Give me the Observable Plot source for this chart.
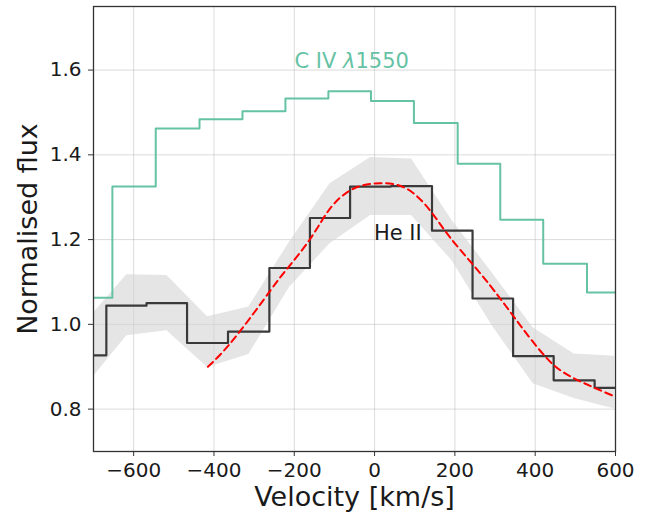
<!DOCTYPE html>
<html>
<head>
<meta charset="utf-8">
<script src="https://cdn.jsdelivr.net/npm/d3@7"></script>
<script src="https://cdn.jsdelivr.net/npm/@observablehq/plot@0.6"></script>
<style>
  html, body { margin: 0; padding: 0; background: white; }
</style>
</head>
<body>
<div id="chart"></div>
<script>
// C IV λ1550 binned profile (bin edges, flux held until next edge)
const civEdges = [-700, -653, -545, -436, -329, -222, -115, -9, 98, 207, 313, 420, 529, 600];
const civFlux  = [1.063, 1.325, 1.462, 1.484, 1.503, 1.533, 1.550, 1.527, 1.475, 1.379, 1.247, 1.143, 1.075, 1.075];

// He II binned profile
const heEdges = [-700, -668, -568, -467, -365, -262, -161, -61, 41, 143, 244, 345, 446, 548, 600];
const heFlux  = [0.927, 1.044, 1.050, 0.956, 0.983, 1.133, 1.251, 1.325, 1.326, 1.221, 1.061, 0.925, 0.868, 0.850, 0.850];

// He II uncertainty band (bin centres)
const bandV     = [-718, -617, -517, -416, -313, -212, -111, -10, 92, 193, 294, 395, 497, 598];
const bandUpper = [1.007, 1.117, 1.115, 1.018, 1.041, 1.194, 1.332, 1.394, 1.390, 1.245, 1.120, 0.992, 0.930, 0.925];
const bandLower = [0.856, 0.973, 0.985, 0.898, 0.929, 1.087, 1.190, 1.257, 1.257, 1.150, 0.995, 0.860, 0.825, 0.800];

// Fitted profile
const fitV    = [-415, -384, -334, -260, -218, -160, -111, -53, 14, 80, 138, 188, 254, 312, 361, 428, 494, 600];
const fitFlux = [0.900, 0.929, 0.985, 1.079, 1.131, 1.202, 1.273, 1.320, 1.333, 1.320, 1.269, 1.205, 1.131, 1.062, 1.000, 0.921, 0.874, 0.829];

const xTicks = [-600, -400, -200, 0, 200, 400, 600];
const yTicks = [0.8, 1.0, 1.2, 1.4, 1.6];

const civ  = civEdges.map((v, i) => ({v, f: civFlux[i]}));
const heii = heEdges.map((v, i) => ({v, f: heFlux[i]}));
const band = bandV.map((v, i) => ({v, lo: bandLower[i], hi: bandUpper[i]}));
const fit  = fitV.map((v, i) => ({v, f: fitFlux[i]}));

const chart = Plot.plot({
  width: 649,
  height: 513,
  marginLeft: 93,
  marginRight: 34,
  marginTop: 6,
  marginBottom: 62,
  style: {fontFamily: "DejaVu Sans", fontSize: "20px", background: "white", color: "#1a1a1a"},
  x: {domain: [-700, 600]},
  y: {domain: [0.7, 1.75]},
  marks: [
    Plot.gridX(xTicks, {stroke: "#b0b0b0", strokeOpacity: 0.45, strokeWidth: 1}),
    Plot.gridY(yTicks, {stroke: "#b0b0b0", strokeOpacity: 0.45, strokeWidth: 1}),
    Plot.areaY(band, {x: "v", y1: "lo", y2: "hi", fill: "#d3d3d3", fillOpacity: 0.6, clip: true}),
    Plot.line(civ, {x: "v", y: "f", curve: "step-after", stroke: "#66c2a5", strokeWidth: 2, clip: true}),
    Plot.line(heii, {x: "v", y: "f", curve: "step-after", stroke: "#3a3a3a", strokeWidth: 2.2, clip: true}),
    Plot.line(fit, {x: "v", y: "f", curve: "natural", stroke: "red", strokeWidth: 2, strokeDasharray: "7,4.5", clip: true}),
    Plot.text(["C IV λ1550"], {x: -57, y: 1.62, fill: "#66c2a5", fontSize: 21, textAnchor: "middle", className: "civ-label"}),
    Plot.text(["He II"], {x: 58, y: 1.215, fill: "#1a1a1a", fontSize: 21, textAnchor: "middle"}),
    Plot.frame({stroke: "#333", strokeWidth: 1.3}),
    Plot.axisX(xTicks, {tickSize: 5, tickPadding: 6, fontSize: 20, label: null, stroke: "#333", tickFormat: d => d < 0 ? "\u2212" + Math.abs(d) : String(d)}),
    Plot.axisY(yTicks, {tickSize: 5, tickPadding: 7, fontSize: 20, label: null, stroke: "#333", tickFormat: d => d.toFixed(1)}),
    Plot.text(["Velocity [km/s]"], {frameAnchor: "bottom", dy: 46, lineAnchor: "middle", textAnchor: "middle", fontSize: 27, fill: "#1a1a1a"}),
    Plot.text(["Normalised flux"], {frameAnchor: "left", dx: -65, rotate: -90, lineAnchor: "middle", textAnchor: "middle", fontSize: 27, fill: "#1a1a1a"})
  ]
});

document.getElementById("chart").appendChild(chart);

// italic lambda in the C IV label
d3.select(chart).selectAll("g.civ-label text").each(function() {
  const t = d3.select(this);
  const s = t.text();
  const i = s.indexOf("λ");
  if (i < 0) return;
  t.text(null);
  t.append("tspan").text(s.slice(0, i));
  t.append("tspan").attr("font-style", "italic").text("λ");
  t.append("tspan").text(s.slice(i + 1));
});
</script>
</body>
</html>
